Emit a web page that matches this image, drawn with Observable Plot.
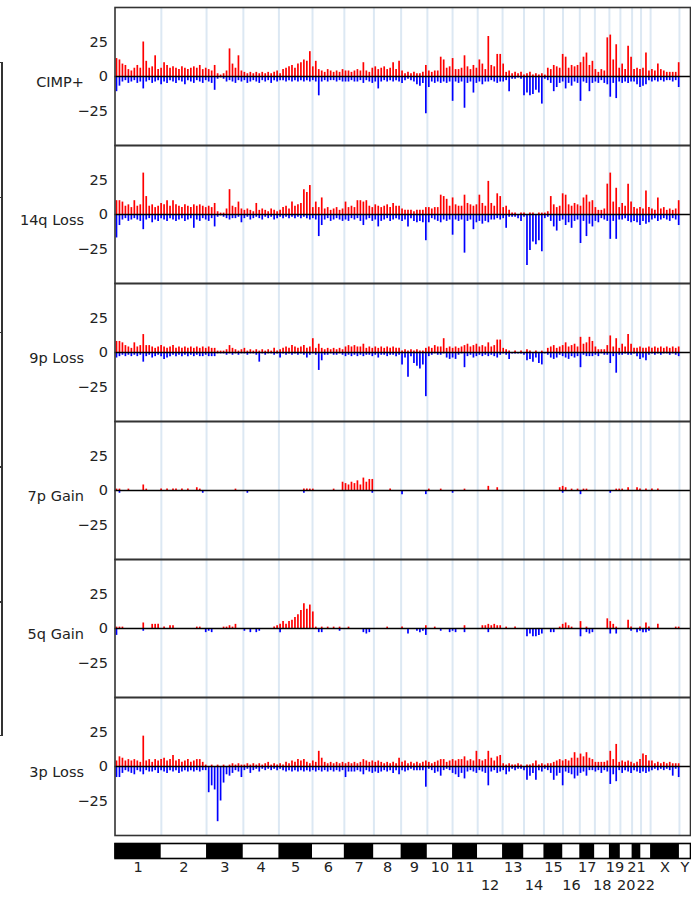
<!DOCTYPE html>
<html><head><meta charset="utf-8">
<script src="https://cdn.jsdelivr.net/npm/d3@7"></script>
<script src="https://cdn.jsdelivr.net/npm/@observablehq/plot@0.6"></script>
<style>
body{margin:0;background:#fff;}
#wrap{position:relative;width:691px;height:901px;overflow:hidden;background:#fff;}
#wrap svg{display:block;}
.br{position:absolute;background:#333;}
</style></head><body><div id="wrap"></div>
<script>
const chromNames = ["1","2","3","4","5","6","7","8","9","10","11","12","13","14","15","16","17","18","19","20","21","22","X","Y"];
const chromLengths = [249.25,243.2,198.0,191.15,180.9,171.1,159.1,146.4,141.2,135.5,135.0,133.9,115.2,107.3,102.5,90.4,81.2,78.1,59.1,63.0,48.1,51.3,155.3,59.4];
const lowerRowLabels = ["12","14","16","18","20","22"];
const panelNames = ["CIMP+","14q Loss","9p Loss","7p Gain","5q Gain","3p Loss"];
const binSize = 16; // Mb per bar

const cimpGain = [13,12,9,8,5,4,6,8,6,25, 11,6,7,15,5,6,10,8,6,7, 6,5,7,6,5,6,7,6,8,5, 6,5,4,8,2,1,2,4,20,9, 6,15,4,3,2,3,2,3,2,3, 2,3,2,3,4,2,5,6,7,8, 6,9,10,12,11,18,7,11,5,4, 3,5,4,3,4,3,5,4,4,3, 4,5,4,10,4,3,6,7,5,6, 7,5,6,10,5,11,4,2,3,2, 3,2,2,3,8,4,3,4,4,14, 12,6,7,13,5,5,6,15,7,5, 8,6,12,9,5,29,8,7,16,16, 9,3,4,2,3,2,3,1,2,3, 1,2,1,2,1,6,5,8,7,6, 16,14,6,8,7,8,10,14,17,8, 11,5,3,5,4,28,30,12,23,6, 9,5,22,14,5,6,5,6,17,4, 5,4,9,5,4,3,3,3,3,10];
const cimpLoss = [-11,-7,-4,-3,-5,-4,-3,-5,-4,-9, -4,-3,-5,-4,-3,-6,-4,-5,-3,-4, -5,-3,-4,-6,-3,-4,-5,-3,-4,-5, -3,-4,-5,-10,-2,-1,-2,-4,-3,-4, -5,-3,-4,-3,-5,-4,-3,-4,-5,-3, -4,-3,-5,-3,-4,-3,-3,-4,-3,-4, -3,-4,-3,-4,-3,-4,-3,-4,-14,-4, -3,-4,-3,-3,-4,-3,-4,-4,-4,-3, -4,-4,-3,-5,-3,-4,-5,-4,-9,-4, -3,-4,-3,-4,-3,-4,-5,-3,-2,-3, -4,-6,-7,-5,-27,-8,-4,-5,-4,-5, -4,-5,-4,-18,-4,-5,-4,-23,-5,-4, -12,-5,-4,-6,-4,-4,-3,-4,-5,-4, -4,-3,-11,-2,-2,-1,-2,-14,-12,-14, -13,-10,-12,-20,-2,-3,-5,-11,-8,-5, -4,-9,-5,-7,-4,-5,-18,-4,-5,-11, -5,-4,-5,-3,-5,-6,-15,-5,-16,-4, -5,-4,-5,-4,-4,-6,-8,-7,-6,-3, -4,-3,-4,-3,-4,-3,-3,-4,-3,-8];

const loss14qGain = [10,10,9,6,7,5,10,6,7,30, 13,6,7,5,6,8,7,10,6,10, 7,6,5,7,6,5,7,6,7,6, 5,6,5,8,2,1,1,4,18,6, 5,9,4,3,4,3,2,8,3,4, 3,2,4,3,2,3,5,6,4,9, 6,7,8,18,16,21,5,9,5,12, 4,5,3,4,5,3,4,9,5,6, 5,10,10,9,10,6,5,7,6,5, 6,7,5,8,6,6,4,3,3,3, 2,3,3,3,5,5,4,5,5,14, 13,11,6,12,7,6,6,14,8,7, 6,7,14,8,6,24,8,6,15,13, 5,6,3,1,1,0,1,1,0,1, 1,0,1,1,1,2,13,7,5,6, 15,14,7,6,8,7,6,12,14,9, 10,5,3,3,4,22,30,9,19,5, 8,6,22,9,5,4,5,4,17,5, 4,3,12,4,5,3,4,3,4,10];
const loss14qLoss = [-17,-8,-4,-3,-5,-4,-3,-4,-5,-11, -4,-3,-6,-4,-5,-3,-4,-5,-3,-4, -5,-4,-3,-5,-4,-3,-10,-4,-5,-3, -4,-5,-3,-9,-2,-1,-2,-3,-4,-3, -3,-2,-6,-3,-2,-4,-3,-2,-3,-4, -2,-3,-2,-4,-3,-2,-3,-2,-3,-2, -3,-2,-3,-2,-3,-4,-3,-4,-16,-8, -4,-3,-5,-4,-3,-4,-5,-4,-5,-3, -4,-3,-5,-8,-4,-3,-5,-4,-9,-5, -4,-3,-5,-4,-3,-4,-5,-4,-9,-3, -5,-6,-5,-6,-19,-6,-3,-4,-5,-6, -4,-5,-4,-15,-4,-5,-4,-28,-5,-4, -11,-6,-5,-7,-5,-6,-4,-4,-3,-4, -3,-10,-2,-2,-2,-3,-5,-2,-37,-26, -20,-22,-19,-27,-3,-2,-5,-9,-12,-5, -4,-8,-6,-10,-5,-4,-21,-5,-16,-7, -9,-5,-6,-3,-4,-5,-18,-5,-18,-4, -4,-3,-5,-6,-5,-6,-8,-5,-7,-6, -4,-3,-5,-4,-3,-4,-5,-3,-4,-8];

const loss9pGain = [8,8,7,5,4,3,7,4,5,13, 5,5,4,3,4,5,4,3,4,5, 3,4,3,4,3,4,3,4,3,4, 3,4,3,3,1,1,1,2,5,3, 2,1,2,3,1,2,1,2,1,2, 1,2,1,3,1,2,3,4,3,5, 4,3,4,5,3,4,10,3,6,3, 2,3,2,3,2,3,2,4,5,4, 5,4,4,6,3,4,3,4,3,4, 3,4,3,4,3,3,1,2,1,2, 1,2,1,1,3,4,3,5,4,4, 10,3,4,3,4,3,4,5,6,4, 5,6,4,5,4,7,4,5,9,9, 3,2,1,0,1,0,1,0,2,1, 0,1,0,1,0,3,4,5,3,4, 5,7,4,5,6,4,11,6,7,11, 8,4,2,2,2,5,12,4,10,3, 6,4,13,6,3,3,4,3,3,4, 3,4,3,4,3,4,3,4,3,4];
const loss9pLoss = [-4,-3,-2,-3,-2,-3,-2,-3,-2,-7, -3,-2,-4,-3,-2,-3,-5,-4,-3,-2, -3,-2,-3,-2,-3,-2,-3,-2,-3,-3, -2,-3,-3,-3,-1,-1,-1,-2,-1,-2, -1,-2,-1,-1,-2,-1,-1,-2,-7,-1, -2,-1,-1,-2,-1,-4,-1,-2,-1,-2, -1,-2,-1,-2,-4,-2,-1,-2,-13,-6, -2,-2,-1,-2,-2,-1,-2,-3,-2,-3, -2,-3,-2,-3,-2,-2,-3,-2,-4,-2, -2,-3,-2,-2,-3,-2,-9,-4,-18,-3, -8,-10,-12,-9,-32,-3,-2,-1,-2,-2, -1,-4,-5,-4,-5,-2,-1,-11,-3,-2, -4,-3,-2,-3,-2,-3,-2,-3,-4,-2, -1,-2,-5,-1,-1,-1,-1,-2,-6,-5, -7,-4,-8,-9,-1,-2,-4,-5,-4,-2, -3,-4,-5,-3,-4,-3,-11,-2,-3,-3, -3,-2,-3,-1,-2,-2,-8,-3,-15,-2, -2,-1,-2,-2,-1,-3,-5,-4,-6,-2, -1,-2,-1,-2,-1,-1,-2,-1,-2,-3];

const gain7pGain = [1,1,0,0,1,0,0,0,0,4, 1,0,0,0,0,1,0,1,0,1, 1,0,1,0,1,0,0,2,1,0, 0,0,0,0,0,0,0,0,0,0, 1,0,0,0,0,0,0,0,0,0, 0,0,0,0,0,0,0,0,0,0, 0,0,0,1,1,1,1,0,0,0, 0,0,0,1,0,0,6,5,4,6, 5,7,4,9,6,8,8,0,0,0, 0,0,1,0,0,0,0,0,0,0, 0,0,0,0,0,1,0,0,0,1, 0,0,0,0,0,0,0,1,0,0, 0,0,0,0,0,3,0,0,2,0, 0,0,0,0,0,0,0,0,0,0, 0,0,0,0,0,0,0,0,0,2, 3,2,0,1,0,1,0,1,1,0, 0,0,0,0,0,0,0,0,1,1, 1,0,2,0,0,2,1,0,1,0, 1,0,1,0,0,0,0,0,0,0];
const gain7pLoss = [0,-2,0,0,0,0,0,0,0,0, 0,0,0,0,0,0,0,0,0,0, 0,0,0,0,0,0,0,0,0,-2, 0,0,0,0,0,0,0,0,0,0, 0,0,0,0,-2,0,0,0,0,0, 0,0,0,0,0,0,0,0,0,0, 0,0,0,-2,0,0,0,0,0,0, 0,0,0,0,0,0,0,0,0,0, 0,0,0,0,0,0,-2,0,0,0, 0,0,0,0,0,0,-3,0,0,0, 0,0,0,0,-3,0,0,0,0,0, 0,0,0,-2,0,0,0,0,0,0, 0,0,0,0,0,0,0,0,0,0, 0,0,0,0,0,0,0,0,0,0, 0,0,0,0,0,0,0,0,0,0, -2,0,0,0,0,0,-3,0,0,0, 0,0,0,0,0,0,-2,0,0,0, 0,0,0,0,0,0,0,0,0,0, 0,0,0,0,0,0,0,0,0,0];

const gain5qGain = [1,1,1,0,0,0,0,0,0,4, 0,0,3,3,3,0,1,0,2,2, 0,0,0,0,0,0,0,1,1,0, 0,0,0,0,0,0,1,1,2,1, 3,0,0,0,0,0,0,0,0,0, 0,0,0,1,2,3,5,3,5,6, 8,10,13,18,14,17,12,1,0,1, 0,1,0,1,0,1,0,0,1,0, 0,0,0,0,0,0,0,0,0,0, 0,1,0,0,0,0,1,0,0,0, 0,0,0,0,2,0,0,1,0,0, 0,0,0,0,0,0,0,2,0,0, 0,0,0,2,2,3,2,3,2,2, 0,1,0,0,1,0,0,0,0,0, 0,0,0,0,0,0,0,0,0,1, 3,4,2,1,0,0,5,0,1,0, 0,0,0,0,0,7,5,3,1,0, 0,0,6,1,0,0,1,0,4,1, 0,0,3,0,0,0,0,0,1,1];
const gain5qLoss = [-5,0,0,0,0,0,0,0,0,-2, 0,0,0,0,0,0,0,0,0,0, 0,0,0,0,0,0,0,0,0,0, -3,-2,-3,0,0,0,0,0,0,0, 0,0,0,-2,0,-3,0,-3,-2,0, 0,0,0,0,0,-3,0,0,0,0, 0,0,0,0,0,0,0,0,-3,-3, 0,0,0,0,0,-2,0,0,0,0, 0,0,0,-3,-4,-3,0,0,0,0, 0,0,0,0,0,0,0,0,-4,0, 0,-2,-3,-2,-5,0,0,0,0,-2, 0,0,-3,-2,-3,0,0,-3,0,0, 0,0,0,0,0,-3,0,0,0,0, 0,0,0,0,0,0,0,0,-6,-4, -6,-6,-5,-4,0,0,-3,-3,0,0, 0,0,0,0,0,0,-6,0,-3,-4, -3,0,0,0,0,0,-4,0,-4,0, 0,0,0,-2,0,-3,-2,-3,-3,-2, 0,0,0,0,0,0,0,0,0,0];

const loss3pGain = [4,7,6,4,5,4,5,4,3,22, 4,5,3,5,4,5,6,4,5,8, 4,5,3,4,5,3,4,5,5,3, 1,0,1,0,1,0,1,0,1,2, 1,2,1,1,2,1,2,1,2,1, 2,3,1,2,1,2,1,3,2,4, 3,5,4,5,3,2,4,3,11,6, 3,2,3,2,3,2,3,2,3,2, 3,2,3,5,4,3,4,3,4,3, 2,3,2,3,2,6,3,4,2,3, 2,3,2,3,4,3,2,3,4,5, 5,3,4,5,4,5,5,7,4,5, 4,11,5,4,5,11,6,4,7,8, 2,1,2,1,1,2,1,0,1,1, 2,4,1,2,1,2,2,3,4,5, 4,5,4,6,10,6,9,7,10,6, 5,3,3,3,3,4,11,5,16,3, 4,3,4,3,2,3,5,9,8,4, 4,2,3,2,3,2,3,2,2,2];
const loss3pLoss = [-8,-8,-5,-3,-4,-5,-6,-3,-4,-6, -3,-4,-4,-3,-5,-3,-4,-5,-3,-4, -3,-5,-4,-3,-4,-3,-4,-3,-4,-3, -3,-19,-14,-17,-40,-25,-12,-6,-7,-5, -3,-4,-8,-3,-2,-5,-3,-2,-4,-2, -3,-2,-3,-2,-3,-2,-3,-4,-3,-4, -3,-4,-3,-4,-3,-4,-3,-4,-3,-4, -3,-4,-3,-4,-3,-4,-3,-8,-4,-4, -4,-3,-4,-6,-3,-4,-5,-4,-5,-4, -3,-4,-3,-5,-3,-6,-3,-4,-3,-2, -3,-3,-3,-3,-15,-2,-3,-5,-4,-7, -3,-2,-3,-5,-6,-8,-5,-9,-4,-3, -4,-5,-3,-4,-5,-14,-4,-3,-5,-4, -3,-6,-4,-2,-3,-2,-2,-3,-10,-7, -5,-10,-3,-4,-2,-3,-5,-10,-7,-5, -14,-4,-5,-6,-9,-7,-5,-4,-7,-3, -3,-4,-3,-5,-3,-4,-13,-6,-11,-3, -5,-3,-4,-5,-3,-4,-5,-4,-5,-4, -3,-2,-3,-2,-3,-2,-3,-7,-2,-8];

const yTicks = [-25, 0, 25];

// ---- derived tables ----
const chroms = [];
let acc = 0;
chromNames.forEach((name, i) => {
  chroms.push({name, i, start: acc, end: acc + chromLengths[i], mid: acc + chromLengths[i] / 2});
  acc += chromLengths[i];
});
const genomeTotal = acc;
const boundaries = chroms.slice(0, -1).map(c => c.end);

const seriesList = [
  [panelNames[0], cimpGain, cimpLoss],
  [panelNames[1], loss14qGain, loss14qLoss],
  [panelNames[2], loss9pGain, loss9pLoss],
  [panelNames[3], gain7pGain, gain7pLoss],
  [panelNames[4], gain5qGain, gain5qLoss],
  [panelNames[5], loss3pGain, loss3pLoss]
];
const bars = [];
for (const [panel, gain, loss] of seriesList) {
  for (const arr of [gain, loss]) {
    arr.forEach((v, i) => { if (v !== 0) bars.push({panel, pos: i * binSize + binSize / 2, value: v}); });
  }
}

const font = {fontFamily: "'DejaVu Sans', sans-serif", fontSize: "14.5px", color: "#222", background: "#fff"};

const main = Plot.plot({
  width: 691, height: 837,
  marginTop: 5, marginBottom: 1, marginLeft: 114.5, marginRight: 1,
  style: font,
  x: {domain: [0, genomeTotal], axis: null},
  y: {domain: [-50, 50], axis: null},
  fy: {domain: panelNames, padding: 0, axis: null},
  marks: [
    Plot.ruleX(boundaries, {x: d => d, stroke: "#dce8f3", strokeWidth: 2}),
    Plot.ruleX(bars, {x: "pos", y1: 0, y2: "value", fy: "panel",
      stroke: d => d.value > 0 ? "#ff0000" : "#0000ff", strokeWidth: 1.7}),
    Plot.ruleY([0], {stroke: "#000", strokeWidth: 1.6}),
    Plot.axisY(yTicks, {tickSize: 0, tickPadding: 7, label: null, fill: "#222"}),
    Plot.text(panelNames, {fy: d => d, text: d => d, frameAnchor: "left", dx: -31, dy: 6,
      textAnchor: "end", fill: "#222"}),
    Plot.frame({stroke: "#333", strokeWidth: 1.6})
  ]
});

const ideo = Plot.plot({
  width: 691, height: 64,
  marginTop: 6, marginBottom: 43, marginLeft: 114.5, marginRight: 1,
  style: font,
  x: {domain: [0, genomeTotal], axis: null},
  marks: [
    Plot.rect(chroms, {x1: "start", x2: "end", fill: d => d.i % 2 === 0 ? "#000" : "#fff"}),
    Plot.frame({stroke: "#000", strokeWidth: 1.6}),
    Plot.text(chroms.filter(c => !lowerRowLabels.includes(c.name)), {x: "mid", text: "name",
      frameAnchor: "bottom", dy: 13, fill: "#222"}),
    Plot.text(chroms.filter(c => lowerRowLabels.includes(c.name)), {x: "mid", text: "name",
      frameAnchor: "bottom", dy: 31, fill: "#222"})
  ]
});

const wrap = document.getElementById("wrap");
wrap.appendChild(main);
wrap.appendChild(ideo);

// cropped dendrogram bracket at far left
const br = (l, t, w, h) => { const d = document.createElement("div"); d.className = "br";
  Object.assign(d.style, {left: l + "px", top: t + "px", width: w + "px", height: h + "px"}); wrap.appendChild(d); };
br(1, 61.5, 1.5, 674);
for (const t of [61.5, 196.5, 331.5, 466, 601, 734.5]) br(0, t, 3, 1.5);
</script>
</body></html>
